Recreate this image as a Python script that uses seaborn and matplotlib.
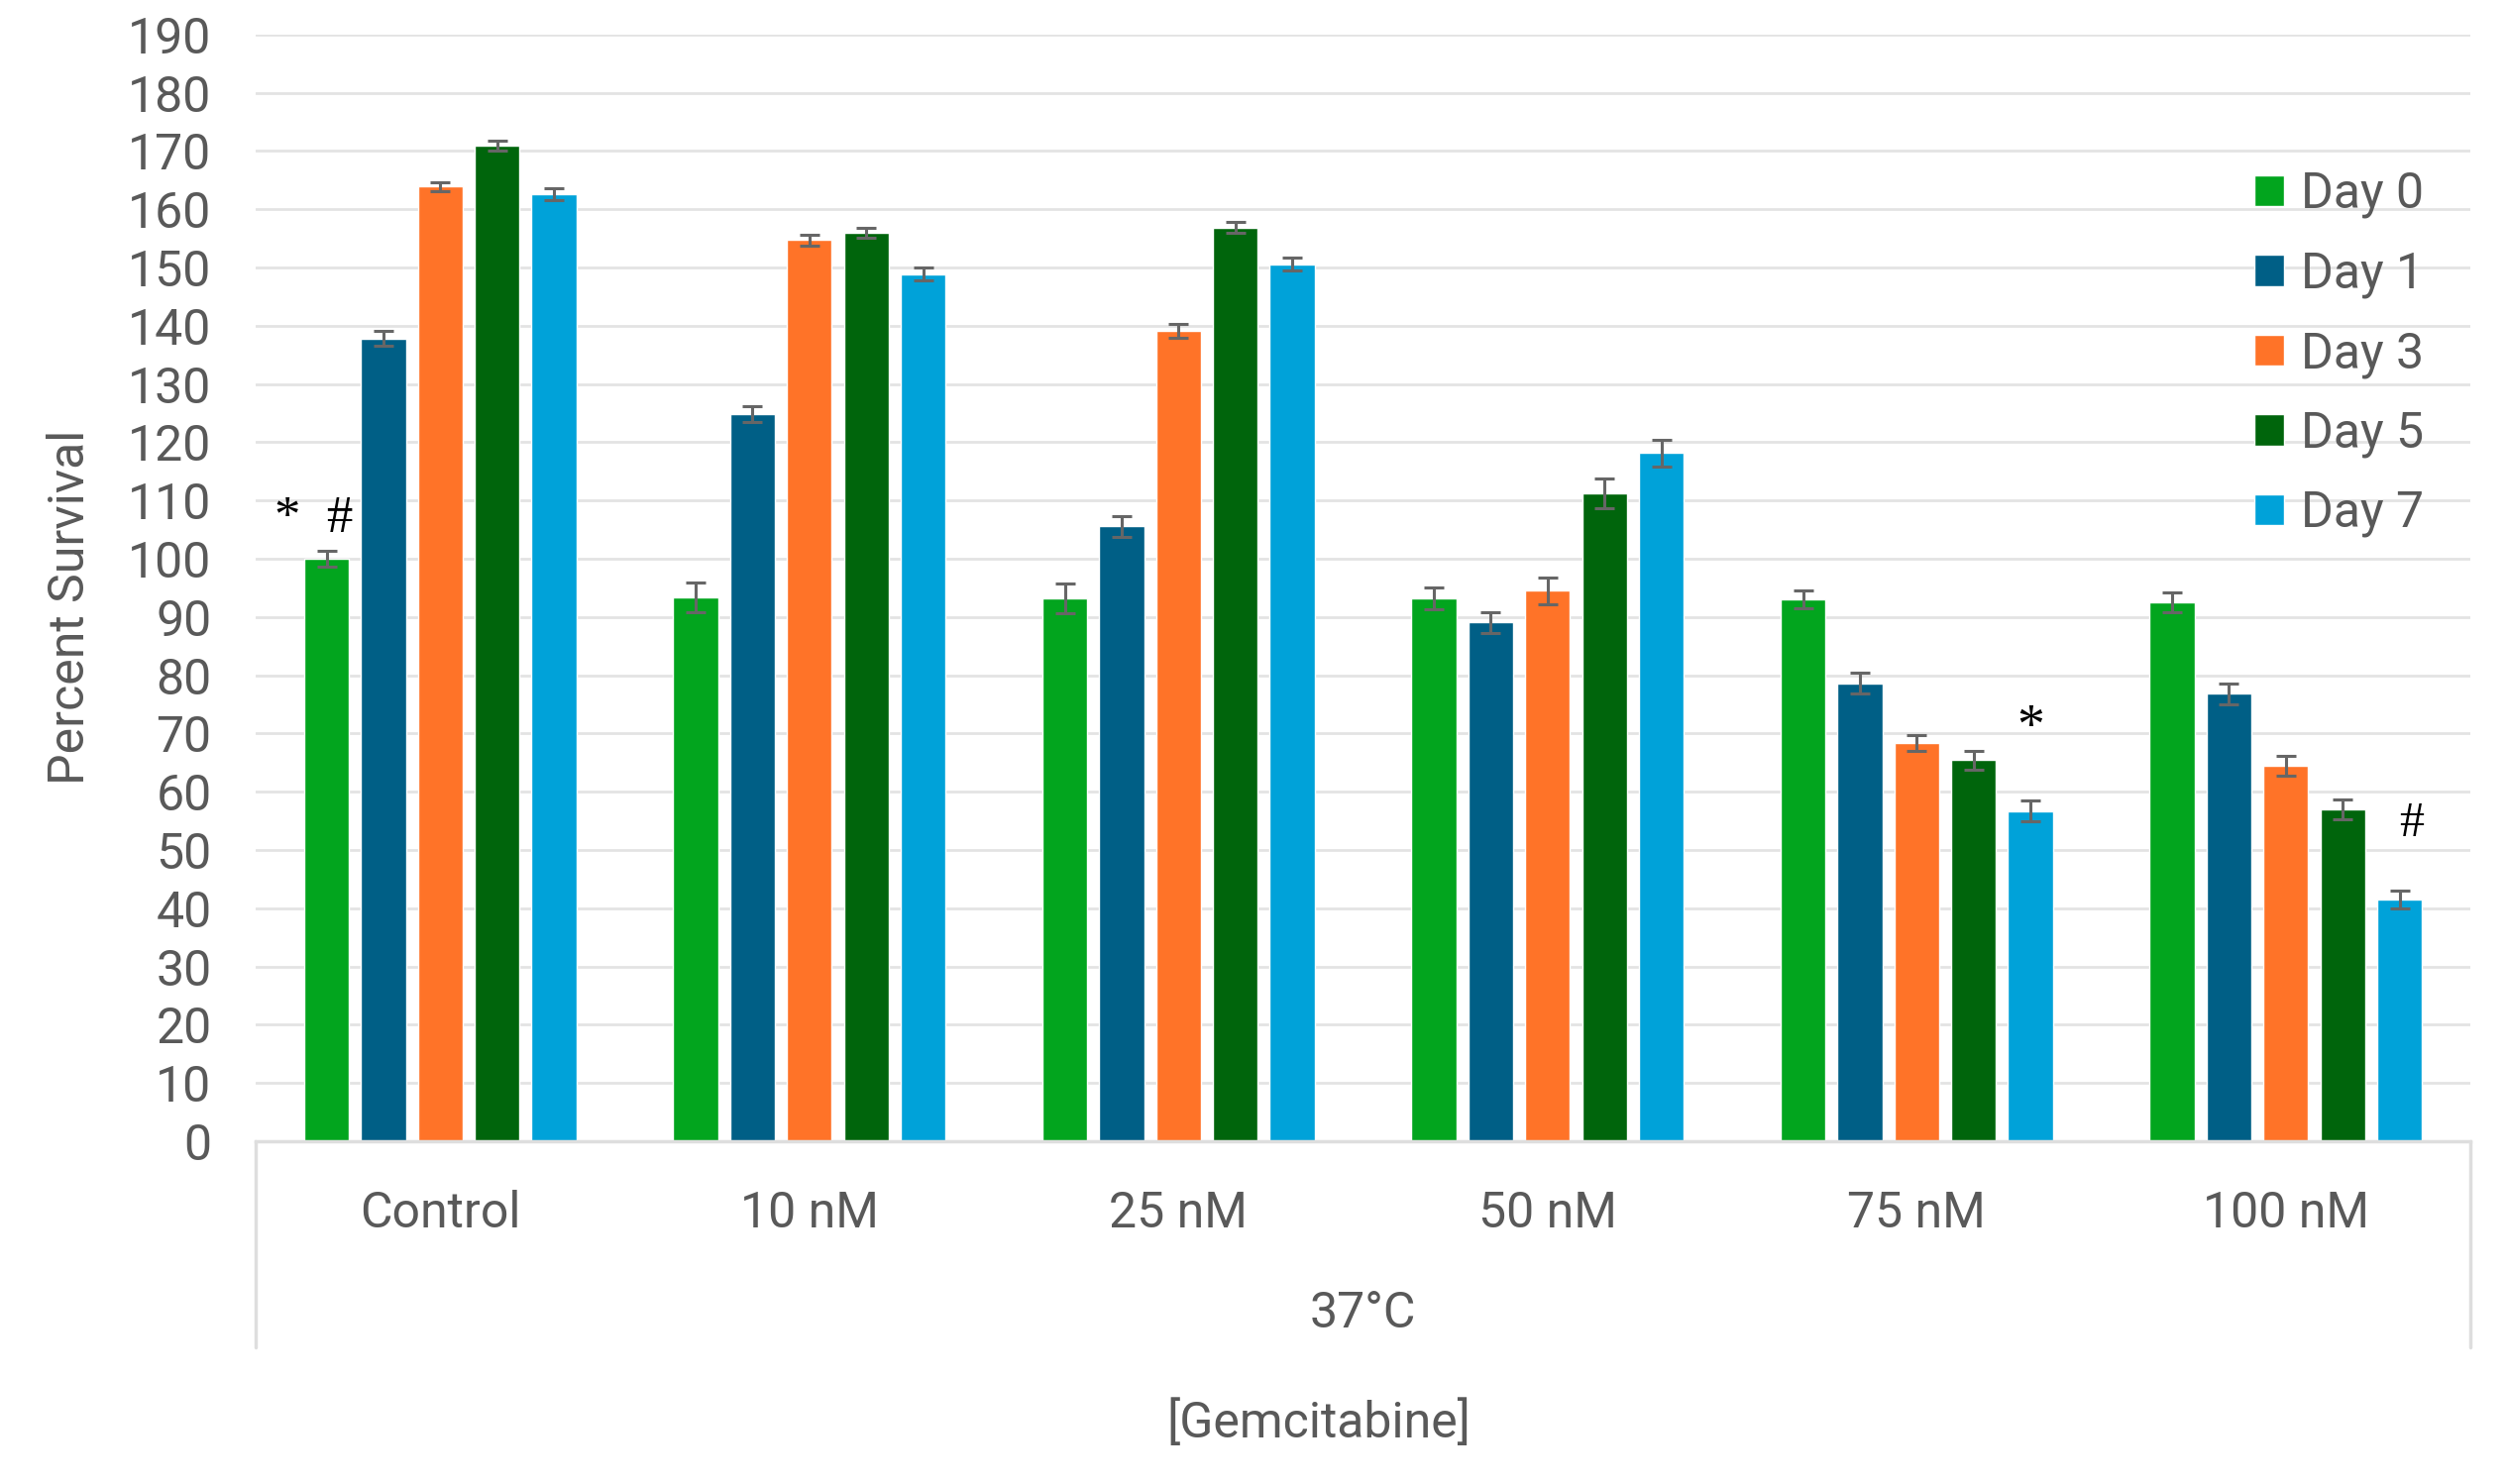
import pandas as pd
import seaborn as sns
import matplotlib.pyplot as plt

# Dados (Percent Survival, média e erro)
grupos = ["Control", "10 nM", "25 nM", "50 nM", "75 nM", "100 nM"]
dias = ["Day 0", "Day 1", "Day 3", "Day 5", "Day 7"]

day0 = [100.0, 93.4, 93.2, 93.2, 93.0, 92.5]
day1 = [137.8, 124.8, 105.6, 89.1, 78.6, 76.8]
day3 = [163.9, 154.7, 139.1, 94.5, 68.4, 64.5]
day5 = [170.9, 156.0, 156.9, 111.2, 65.4, 57.0]
day7 = [162.6, 148.9, 150.6, 118.2, 56.7, 41.5]

err0 = [1.4, 2.5, 2.6, 1.9, 1.5, 1.7]
err1 = [1.3, 1.4, 1.8, 1.8, 1.8, 1.8]
err3 = [0.8, 0.9, 1.2, 2.3, 1.4, 1.7]
err5 = [0.8, 0.9, 0.9, 2.6, 1.6, 1.7]
err7 = [1.0, 1.1, 1.1, 2.3, 1.8, 1.6]

cores = ["#02A51E", "#005F86", "#FF7328", "#00650C", "#00A2D9"]

valores = [day0, day1, day3, day5, day7]
erros = [err0, err1, err3, err5, err7]

linhas = []
for dia, vals, errs in zip(dias, valores, erros):
    for g, v, e in zip(grupos, vals, errs):
        linhas.append({"Grupo": g, "Dia": dia, "Valor": v, "Erro": e})
df = pd.DataFrame(linhas)

sns.set_style("white")
plt.rcParams["font.family"] = ["Roboto", "DejaVu Sans"]
cinza = "#595959"

fig = plt.figure(figsize=(25.3, 14.98), dpi=100)
ax = fig.add_axes([0.102, 0.231, 0.8834, 0.7457])

sns.barplot(data=df, x="Grupo", y="Valor", hue="Dia", order=grupos, hue_order=dias,
            palette=cores, saturation=1, width=0.77, gap=0.21, errorbar=None,
            ax=ax, zorder=2)

# barras de erro a partir das barras desenhadas
for cont, dia in zip(ax.containers, dias):
    sub = df[df["Dia"] == dia].set_index("Grupo").loc[grupos]
    xs = [p.get_x() + p.get_width() / 2 for p in cont.patches]
    ax.errorbar(xs, sub["Valor"], yerr=sub["Erro"], fmt="none", ecolor="#666666",
                elinewidth=2.2, capsize=7, capthick=2.2, zorder=3)

ax.set_ylim(0, 190)
ax.set_xlim(-0.5, 5.5)
ax.set_yticks(range(0, 191, 10))
ax.yaxis.grid(True, color="#e3e3e3", linewidth=2)
ax.set_axisbelow(True)
for s in ["top", "right", "left"]:
    ax.spines[s].set_visible(False)
ax.spines["bottom"].set_color("#dedede")
ax.spines["bottom"].set_linewidth(2.5)
ax.tick_params(axis="both", length=0, labelsize=36, labelcolor=cinza)
ax.tick_params(axis="x", pad=35)
ax.tick_params(axis="y", pad=32)
ax.set_xlabel("")
ax.set_ylabel("")

# caixa do eixo de categorias com dois níveis
for xa in [0, 1]:
    ax.plot([xa, xa], [0, -0.186], transform=ax.transAxes, color="#dedede",
            linewidth=2.5, clip_on=False)
fig.text(0.5435, 1 - 1326 / 1498, "37°C", ha="center", va="center", fontsize=36, color=cinza)
fig.text(0.526, 1 - 1437 / 1498, "[Gemcitabine]", ha="center", va="center", fontsize=36, color=cinza)
fig.text(0.028, 0.591, "Percent Survival", rotation=90, ha="center", va="center",
         fontsize=36, color=cinza)

# marcas de significância
serif = ["Liberation Serif", "DejaVu Serif"]
ax.text(-0.342, 106.8, "*  #", ha="center", va="center", fontsize=38, family=serif, color="black")
ax.text(4.308, 70.8, "*", ha="center", va="center", fontsize=40, family=serif, color="black")
ax.text(5.34, 54.5, "#", ha="center", va="center", fontsize=36, family=serif, color="black")

leg = ax.legend(loc="upper left", bbox_to_anchor=(2275 / 2530, 1 - 172 / 1498),
                bbox_transform=fig.transFigure, frameon=False, fontsize=36,
                handlelength=0.6, handleheight=0.6, handletextpad=0.35,
                labelspacing=0.64, borderpad=0, borderaxespad=0)
for t in leg.get_texts():
    t.set_color(cinza)

plt.savefig("out.png", dpi=100)
